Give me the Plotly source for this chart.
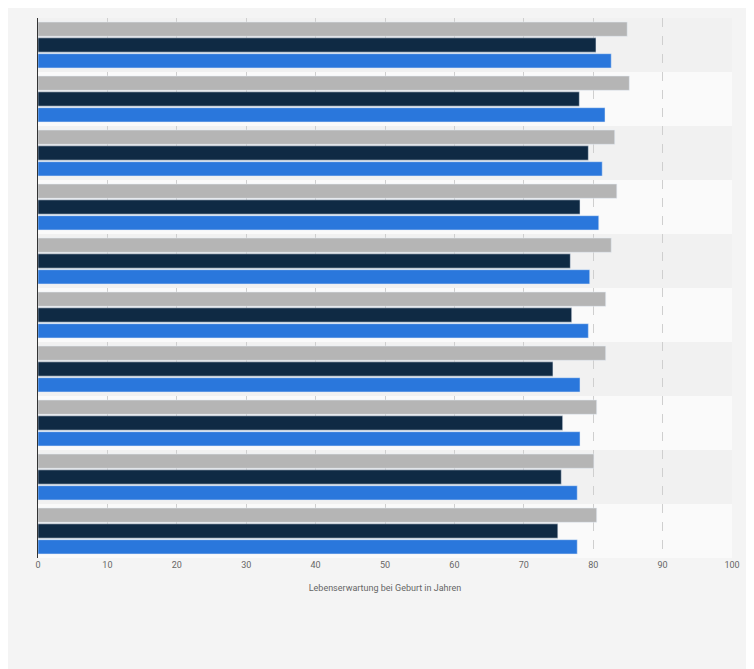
import plotly.graph_objects as go

groups = list(range(10))
gray_vals = [84.9, 85.2, 83.1, 83.4, 82.6, 81.8, 81.8, 80.5, 80.1, 80.5]
navy_vals = [80.4, 78.0, 79.3, 78.1, 76.7, 76.9, 74.2, 75.6, 75.4, 74.9]
blue_vals = [82.6, 81.7, 81.3, 80.8, 79.5, 79.3, 78.1, 78.1, 77.7, 77.7]

fig = go.Figure()
fig.add_trace(go.Bar(y=groups, x=gray_vals, orientation="h", marker_color="#b5b5b5", name="a"))
fig.add_trace(go.Bar(y=groups, x=navy_vals, orientation="h", marker_color="#0f2a44", name="b"))
fig.add_trace(go.Bar(y=groups, x=blue_vals, orientation="h", marker_color="#2a77dc", name="c"))

# alternating row bands
for i in groups:
    fig.add_shape(type="rect", xref="paper", yref="y", x0=0, x1=1,
                  y0=i - 0.5, y1=i + 0.5, line_width=0, layer="below",
                  fillcolor="#f1f1f1" if i % 2 == 0 else "#fafafa")

fig.update_layout(
    width=754, height=669,
    margin=dict(l=30, r=30, t=10, b=119),
    paper_bgcolor="#f4f4f4", plot_bgcolor="#f4f4f4",
    barmode="group", bargap=0.12, bargroupgap=0.1,
    showlegend=False,
    font=dict(family="Roboto, Arial", color="#666666", size=9),
)
fig.update_xaxes(range=[0, 100], dtick=10, showgrid=True, gridcolor="#cfcfcf",
                 griddash="dash", zeroline=False,
                 title=dict(text="Lebenserwartung bei Geburt in Jahren", font=dict(size=9)),
                 tickfont=dict(size=9))
fig.update_yaxes(range=[9.5, -0.5], showticklabels=False, showgrid=False,
                 showline=True, linecolor="#333333", linewidth=1, zeroline=False)

fig.write_html("out.html")
